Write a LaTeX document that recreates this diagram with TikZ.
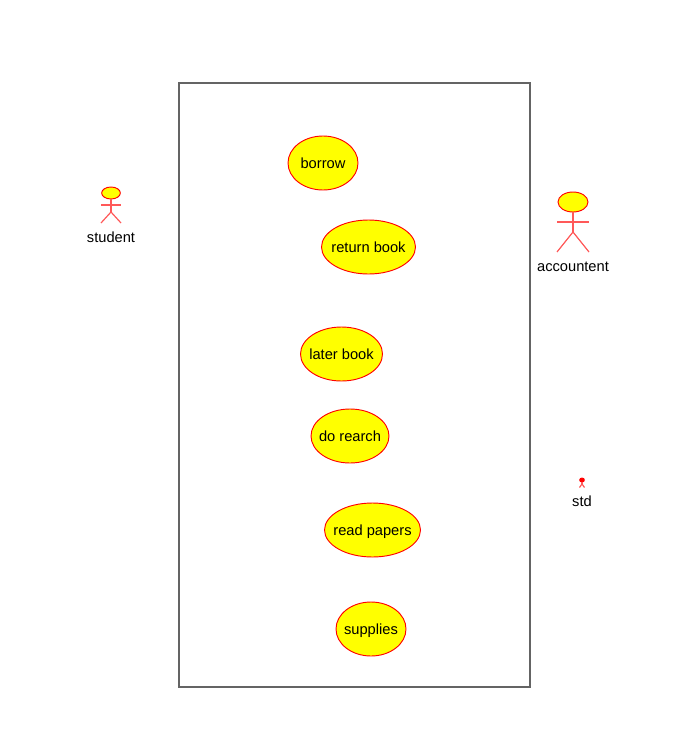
\documentclass[tikz,border=0pt]{standalone}
\usepackage{fontspec}
\setmainfont{Liberation Sans}
\usetikzlibrary{shapes.geometric}
\definecolor{ucyellow}{RGB}{255,255,0}
\definecolor{ucred}{RGB}{255,0,0}
\definecolor{boxgray}{RGB}{100,100,100}
\newcommand{\uctext}[1]{\makebox[0pt]{#1}}
\tikzstyle{usecase}=[draw=ucred, fill=ucyellow, ellipse, minimum height=40.5pt, inner sep=0, line width=0.7pt, text height=9.5pt, text depth=2pt, font=\fontsize{11pt}{12pt}\selectfont]
\tikzstyle{head}=[draw=ucred, fill=ucyellow, ellipse, inner sep=0, line width=0.7pt]
\tikzstyle{limb}=[draw=ucred!65!white, line width=0.9pt]
\tikzstyle{lbl}=[inner sep=0, text height=9.5pt, text depth=2pt, font=\fontsize{11pt}{12pt}\selectfont]
\begin{document}
\begin{tikzpicture}[x=0.75pt, y=-0.75pt]
	\useasboundingbox (0,0) rectangle (680,739);
	\node[draw=boxgray, line width=0.9pt, minimum width=263.25pt, minimum height=453pt, inner sep=0] (system) at (354.5,385) {};
	% use cases
	\node[usecase, minimum width=52.5pt] (borrow) at (323,163) {\uctext{borrow}};
	\node[usecase, minimum width=70.5pt] (returnbook) at (368.5,247) {\uctext{return book}};
	\node[usecase, minimum width=61.5pt] (laterbook) at (341.5,354) {\uctext{later book}};
	\node[usecase, minimum width=58.5pt] (dorearch) at (350,436) {\uctext{do rearch}};
	\node[usecase, minimum width=72pt] (readpapers) at (372.5,530) {\uctext{read papers}};
	\node[usecase, minimum width=52.5pt] (supplies) at (371,629) {\uctext{supplies}};
	% student
	\node[head, minimum width=14pt, minimum height=9pt] (studenthead) at (111,193) {};
	\coordinate (studentneck) at (111,212);
	\coordinate (studentla) at (101,205);
	\coordinate (studentra) at (121,205);
	\coordinate (studentll) at (101,223);
	\coordinate (studentrl) at (121,223);
	\draw[limb] (studenthead.south) -- (studentneck);
	\draw[limb] (studentla) -- (studentra);
	\draw[limb] (studentll) -- (studentneck) -- (studentrl);
	\node[lbl] (studentlabel) at (111,237) {student};
	% accountent
	\node[head, minimum width=22.5pt, minimum height=15pt] (accounthead) at (573,202) {};
	\coordinate (accountneck) at (573,232);
	\coordinate (accountla) at (557,222);
	\coordinate (accountra) at (589,222);
	\coordinate (accountll) at (557,252);
	\coordinate (accountrl) at (589,252);
	\draw[limb] (accounthead.south) -- (accountneck);
	\draw[limb] (accountla) -- (accountra);
	\draw[limb] (accountll) -- (accountneck) -- (accountrl);
	\node[lbl] (accountlabel) at (573,266) {accountent};
	% std
	\node[head, fill=ucred, minimum width=3.5pt, minimum height=3pt] (stdhead) at (582,480) {};
	\coordinate (stdneck) at (582,484);
	\coordinate (stdll) at (579.5,487.5);
	\coordinate (stdrl) at (584.5,487.5);
	\draw[limb] (stdhead.south) -- (stdneck);
	\draw[limb] (stdll) -- (stdneck) -- (stdrl);
	\node[lbl] (stdlabel) at (582,501) {std};
\end{tikzpicture}
\end{document}
